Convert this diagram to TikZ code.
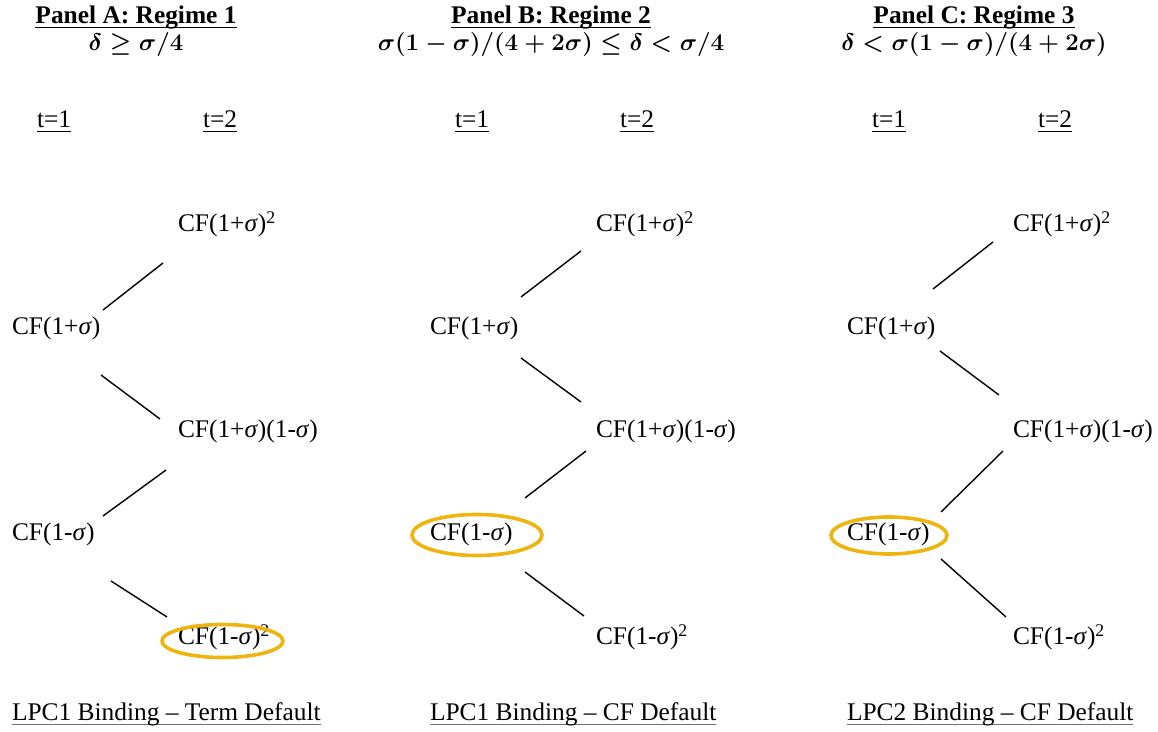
\documentclass[tikz,border=0pt]{standalone}
\usepackage{fontspec}
\setmainfont{Liberation Serif}
\usetikzlibrary{calc}
\definecolor{hilite}{RGB}{240,180,15}
\newsavebox\ulbox
\newcommand\myul[2][black]{\sbox\ulbox{#2}\rlap{\color{#1}\rule[-2pt]{\wd\ulbox}{0.6pt}}\usebox\ulbox}
\newcommand\sgm{\textit{σ}}
\newcommand\frm[1]{{\fontsize{11.6}{13.5}\selectfont\boldmath$#1$}}
\tikzset{
  every node/.style={inner sep=0pt, outer sep=0pt, font=\fontsize{12.7}{14}\selectfont},
  valnode/.style={anchor=base west},
  ttlnode/.style={anchor=base, align=center, font=\fontsize{12.7}{13.5}\selectfont\bfseries},
  tlabnode/.style={anchor=base west},
  captxt/.style={anchor=base west},
  conn/.style={line width=0.7pt, black},
  ringline/.style={line width=1.8pt, hilite}
}
\begin{document}
\begin{tikzpicture}[x=0.5pt,y=-0.5pt]
\useasboundingbox (0,0) rectangle (1158,732);
% ---------------- Panel A ----------------
\node[ttlnode] (ta) at (136,51) {\myul{Panel A: Regime 1}\\ \frm{\delta \geq \sigma/4}};
\node[tlabnode] (a1t) at (37,128) {\myul{t=1}};
\node[tlabnode] (a2t) at (203,128) {\myul{t=2}};
\node[valnode] (a2u) at (178,232) {CF(1+\sgm)\textsuperscript{2}};
\node[valnode] (a1u) at (12,335) {CF(1+\sgm)};
\node[valnode] (a2m) at (178,438) {CF(1+\sgm)(1-\sgm)};
\node[valnode] (a1d) at (12,541) {CF(1-\sgm)};
\node[valnode] (a2d) at (178,645) {CF(1-\sgm)\textsuperscript{2}};
\node[captxt] (ca) at (12,721) {\myul[black!55]{LPC1 Binding -- Term Default}};
\draw[conn] ($(a1u.base west)+(91,-25)$) -- ($(a2u.base west)+(-15,31)$);
\draw[conn] ($(a1u.base west)+(89,40)$) -- ($(a2m.base west)+(-18,-19)$);
\draw[conn] ($(a1d.base west)+(91,-25)$) -- ($(a2m.base west)+(-12,32)$);
\draw[conn] ($(a1d.base west)+(99,40)$) -- ($(a2d.base west)+(-11,-28)$);
\draw[ringline] ($(a2d.base west)+(44.5,-4)$) ellipse [x radius=60.5, y radius=16.5];
% ---------------- Panel B ----------------
\node[ttlnode] (tb) at (551,51) {\myul{Panel B: Regime 2}\\ \frm{\sigma(1-\sigma)/(4+2\sigma) \leq \delta < \sigma/4}};
\node[tlabnode] (b1t) at (455,128) {\myul{t=1}};
\node[tlabnode] (b2t) at (620,128) {\myul{t=2}};
\node[valnode] (b2u) at (596,232) {CF(1+\sgm)\textsuperscript{2}};
\node[valnode] (b1u) at (430,335) {CF(1+\sgm)};
\node[valnode] (b2m) at (596,438) {CF(1+\sgm)(1-\sgm)};
\node[valnode] (b1d) at (430,541) {CF(1-\sgm)};
\node[valnode] (b2d) at (596,645) {CF(1-\sgm)\textsuperscript{2}};
\node[captxt] (cb) at (430,721) {\myul[black!55]{LPC1 Binding -- CF Default}};
\draw[conn] ($(b1u.base west)+(91,-38)$) -- ($(b2u.base west)+(-15,19)$);
\draw[conn] ($(b1u.base west)+(91,23)$) -- ($(b2m.base west)+(-15,-36)$);
\draw[conn] ($(b1d.base west)+(95,-43)$) -- ($(b2m.base west)+(-10,13)$);
\draw[conn] ($(b1d.base west)+(95,31)$) -- ($(b2d.base west)+(-12,-29)$);
\draw[ringline] ($(b1d.base west)+(47,-6)$) ellipse [x radius=65, y radius=20.5];
% ---------------- Panel C ----------------
\node[ttlnode] (tc) at (974,51) {\myul{Panel C: Regime 3}\\ \frm{\delta < \sigma(1-\sigma)/(4+2\sigma)}};
\node[tlabnode] (c1t) at (872,128) {\myul{t=1}};
\node[tlabnode] (c2t) at (1038,128) {\myul{t=2}};
\node[valnode] (c2u) at (1013,232) {CF(1+\sgm)\textsuperscript{2}};
\node[valnode] (c1u) at (847,335) {CF(1+\sgm)};
\node[valnode] (c2m) at (1013,438) {CF(1+\sgm)(1-\sgm)};
\node[valnode] (c1d) at (847,541) {CF(1-\sgm)};
\node[valnode] (c2d) at (1013,645) {CF(1-\sgm)\textsuperscript{2}};
\node[captxt] (cc) at (847,721) {\myul[black!55]{LPC2 Binding -- CF Default}};
\draw[conn] ($(c1u.base west)+(86,-46)$) -- ($(c2u.base west)+(-20,10)$);
\draw[conn] ($(c1u.base west)+(93,16)$) -- ($(c2m.base west)+(-14,-43)$);
\draw[conn] ($(c1d.base west)+(94,-29)$) -- ($(c2m.base west)+(-10,13)$);
\draw[conn] ($(c1d.base west)+(94,18)$) -- ($(c2d.base west)+(-7,-28)$);
\draw[ringline] ($(c1d.base west)+(42,-5.5)$) ellipse [x radius=58, y radius=18.5];
\end{tikzpicture}
\end{document}
